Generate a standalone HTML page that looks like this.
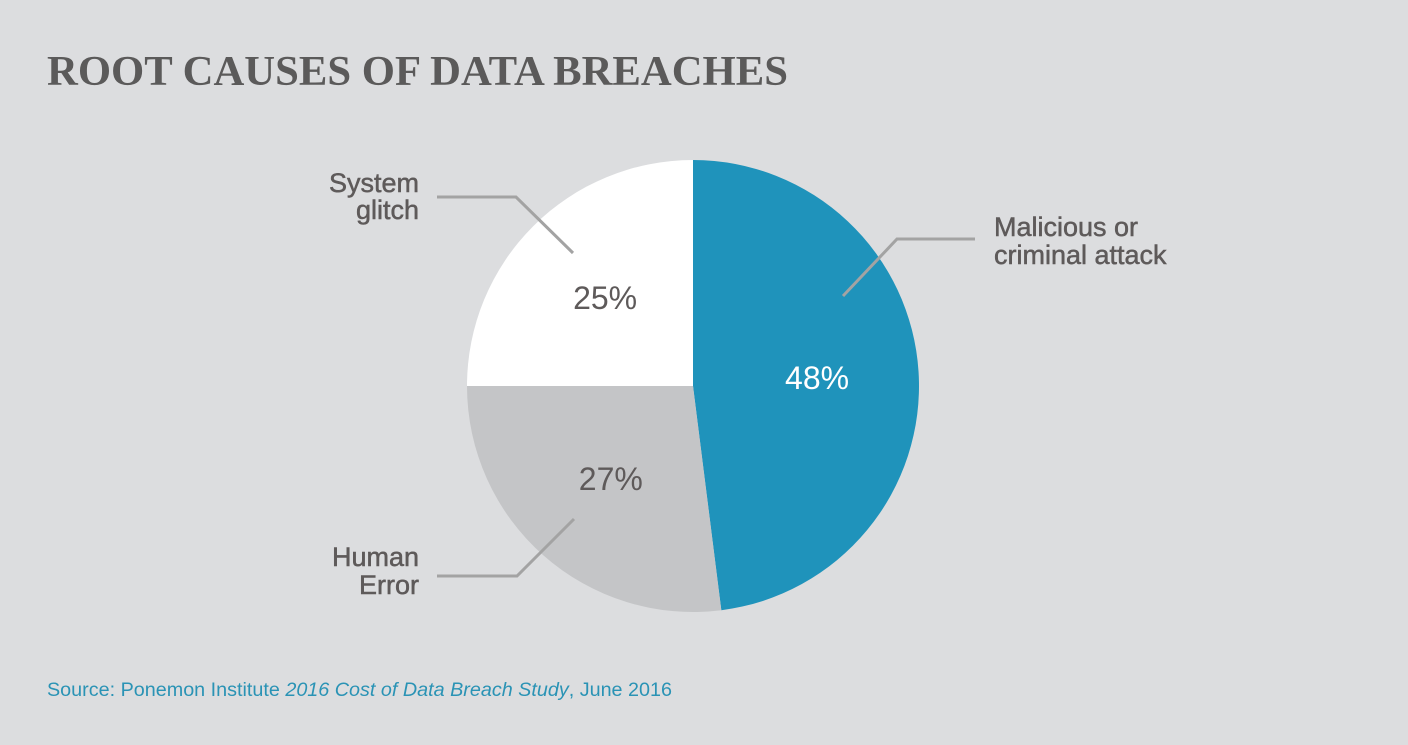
<!DOCTYPE html>
<html><head><meta charset="utf-8"><style>
body{margin:0;width:1408px;height:740px;background:#dcdddf;overflow:hidden;font-family:"Liberation Sans",sans-serif}
</style></head><body>
<svg width="1408" height="740" viewBox="0 0 1408 740">
<text x="47" y="85" font-family="Liberation Serif, serif" font-weight="bold" font-size="42" fill="#5b5a5a" textLength="741" lengthAdjust="spacingAndGlyphs">ROOT CAUSES OF DATA BREACHES</text>
<g id="slices"></g>
<g id="leaders" stroke="#a3a3a3" stroke-width="3" fill="none">
<polyline points="437,197 516,197 573,253"/>
<polyline points="975,239 897,239 843,296"/>
<polyline points="437,576 517,576 574,519"/>
</g>
<g font-family="Liberation Sans, sans-serif" font-size="27" fill="#5e5a5a" stroke="#5e5a5a" stroke-width="0.5">
<text x="419" y="192" text-anchor="end"><tspan x="419">System</tspan><tspan x="419" dy="27">glitch</tspan></text>
<text x="994" y="236"><tspan x="994">Malicious or</tspan><tspan x="994" dy="28">criminal attack</tspan></text>
<text x="419" y="566" text-anchor="end"><tspan x="419">Human</tspan><tspan x="419" dy="28">Error</tspan></text>
</g>
<g id="pcts" font-size="32" text-anchor="middle"></g>
<text x="47" y="696" font-size="19" fill="#2a93b5" textLength="625" lengthAdjust="spacingAndGlyphs">Source: Ponemon Institute <tspan font-style="italic">2016 Cost of Data Breach Study</tspan>, June 2016</text>
</svg>
<script>
const categories=["Malicious or criminal attack","Human Error","System glitch"];
const values=[48,27,25];
const colors=["#1f93bb","#c4c5c7","#ffffff"];
const textColors=["#ffffff","#5e5a5a","#5e5a5a"];
const cx=693,cy=386,r=226;
const total=values.reduce((a,b)=>a+b,0);
const ns="http://www.w3.org/2000/svg";
const g=document.getElementById('slices'),pg=document.getElementById('pcts');
function pt(a,rr){return [cx+rr*Math.sin(a),cy-rr*Math.cos(a)];}
let acc=0;
values.forEach((v,i)=>{
 const a0=acc/total*2*Math.PI;acc+=v;const a1=acc/total*2*Math.PI;
 const p0=pt(a0,r),p1=pt(a1,r);
 const path=document.createElementNS(ns,'path');
 path.setAttribute('d',`M${cx},${cy} L${p0[0]},${p0[1]} A${r},${r} 0 ${a1-a0>Math.PI?1:0} 1 ${p1[0]},${p1[1]} Z`);
 path.setAttribute('fill',colors[i]);
 
 
 g.appendChild(path);
 const m=(a0+a1)/2,lp=pt(m,r*0.55);
 const t=document.createElementNS(ns,'text');
 t.setAttribute('x',lp[0]);t.setAttribute('y',lp[1]+11);
 t.setAttribute('fill',textColors[i]);
 t.textContent=v+'%';
 
 
 pg.appendChild(t);
});
</script>
</body></html>
